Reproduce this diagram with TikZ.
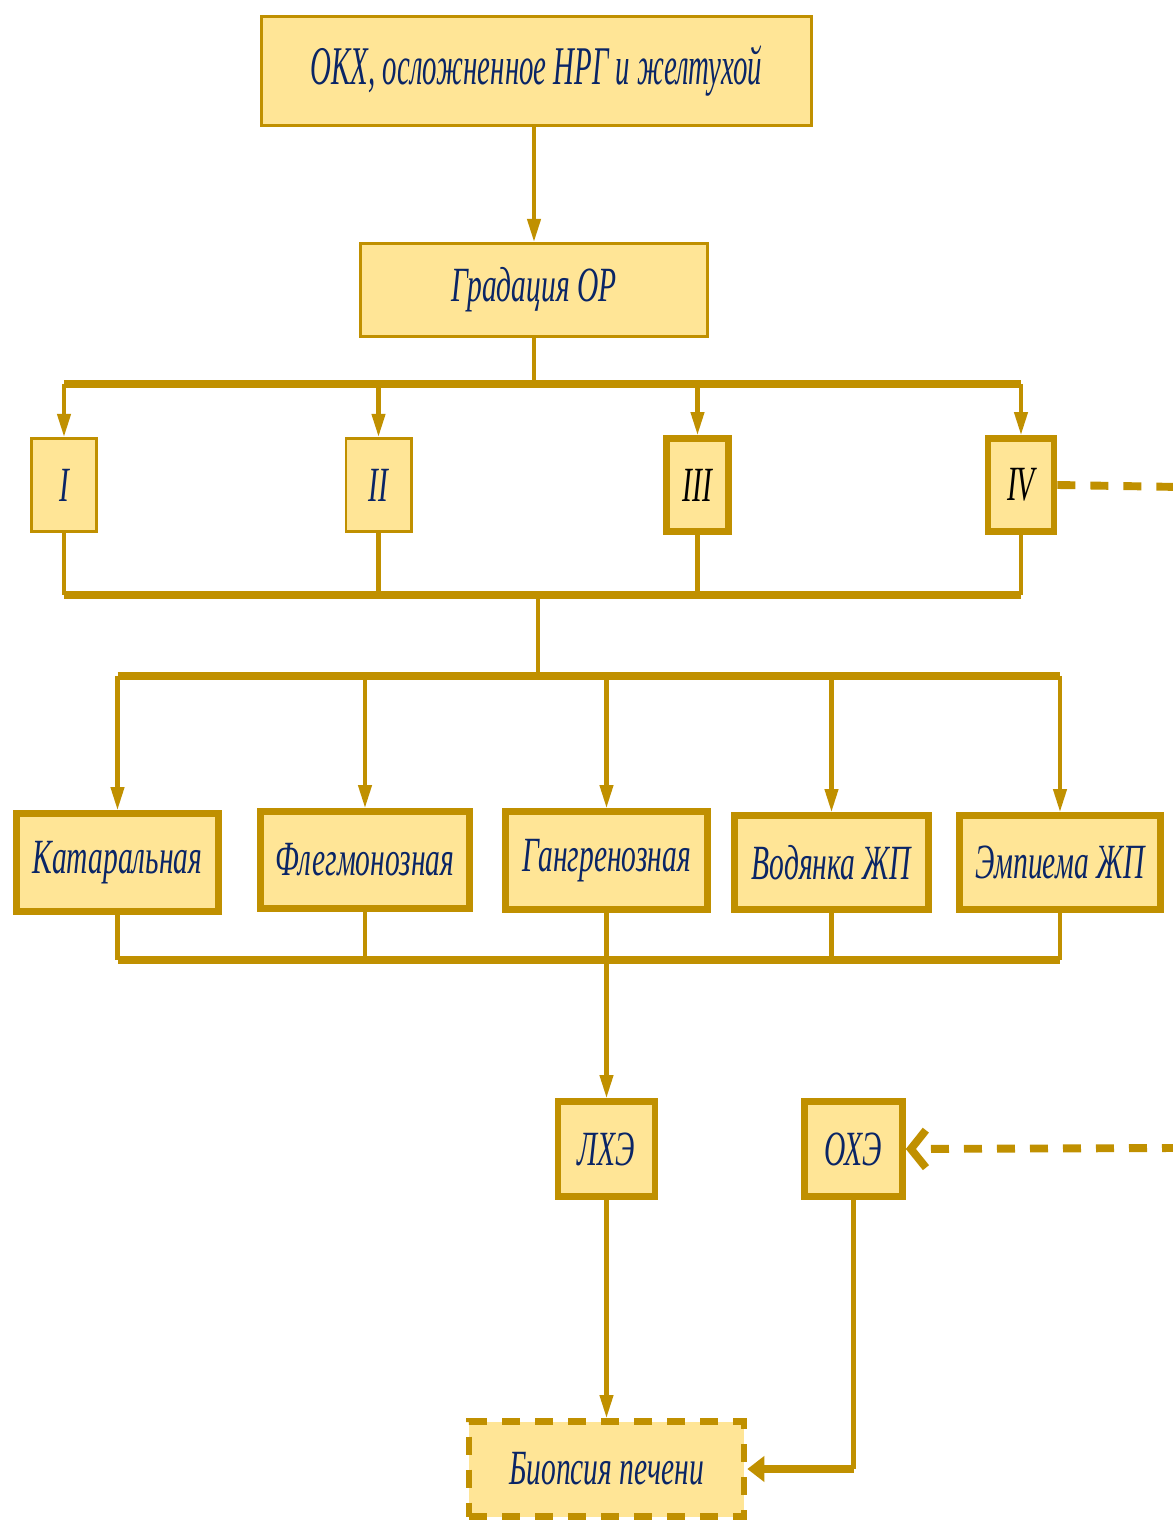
\documentclass[tikz,border=0pt]{standalone}
\usepackage{fontspec}
\usetikzlibrary{arrows.meta}
\newfontfamily\labelfont{Liberation Serif Italic}[FakeStretch=0.6]
\newfontfamily\titlefont{Liberation Serif Italic}[FakeStretch=0.53]
\definecolor{boxfill}{HTML}{FFE596}
\definecolor{boxline}{HTML}{C09000}
\definecolor{ink}{HTML}{0A2566}

\begin{document}
\begin{tikzpicture}[scale=0.2,
  every node/.style={inner sep=0pt, text=ink, font=\labelfont\fontsize{28}{30}\selectfont},
  box/.style={draw=boxline, fill=boxfill, line width=1.7pt},
  boxthick/.style={box, line width=3.8pt},
  boxdash/.style={box, line width=3.8pt, dash pattern=on 0.36cm off 0.3cm},
  link/.style={draw=boxline, line width=2.3pt},
  bus/.style={draw=boxline, line width=4pt},
  dashlink/.style={draw=boxline, line width=4.5pt, dash pattern=on 0.36cm off 0.3cm},
  arr/.style={link, -{Triangle[length=0.46cm,width=0.26cm]}}]
\useasboundingbox (0,0) rectangle (117.2,-152.2);
% upper part
\node [box, minimum width=11cm, minimum height=2.18cm, font=\titlefont\fontsize{31}{33}\selectfont] (okh) at (53.65,-7.1) {ОКХ, осложненное НРГ и желтухой};
\node [box, minimum width=6.94cm, minimum height=1.86cm] (grad) at (53.4,-29.0) {Градация ОР};
\node [box, minimum width=1.3cm, minimum height=1.86cm] (g1) at (6.4,-48.5) {I};
\node [box, minimum width=1.3cm, minimum height=1.86cm] (g2) at (37.85,-48.5) {II};
\node [boxthick, minimum width=1.24cm, minimum height=1.86cm, text=black] (g3) at (69.75,-48.5) {III};
\node [boxthick, minimum width=1.32cm, minimum height=1.86cm, text=black] (g4) at (102.1,-48.5) {IV};
% forms
\node [boxthick, minimum width=4.04cm, minimum height=1.96cm] (kat) at (11.75,-86.25) {Катаральная};
\node [boxthick, minimum width=4.18cm, minimum height=1.94cm] (fleg) at (36.5,-86.0) {Флегмонозная};
\node [boxthick, minimum width=4.04cm, minimum height=1.96cm] (gang) at (60.65,-86.05) {Гангренозная};
\node [boxthick, minimum width=3.88cm, minimum height=1.88cm] (vod) at (83.15,-86.25) {Водянка ЖП};
\node [boxthick, minimum width=4.02cm, minimum height=1.88cm] (emp) at (106.0,-86.25) {Эмпиема ЖП};
% operations
\node [boxthick, minimum width=1.94cm, minimum height=1.9cm] (lhe) at (60.65,-114.9) {ЛХЭ};
\node [boxthick, minimum width=1.96cm, minimum height=1.9cm] (ohe) at (85.35,-114.9) {ОХЭ};
\node [boxdash, minimum width=5.5cm, minimum height=1.9cm] (biop) at (60.65,-146.9) {Биопсия печени};
\coordinate (busA) at (53.4,-38.4);
\coordinate (busB) at (53.8,-59.5);
\coordinate (busC) at (53.8,-67.6);
\coordinate (busD) at (60.65,-96.0);
\coordinate (edgeA) at (118,-48.7);
\coordinate (edgeB) at (118,-114.8);
% connectors
\draw [arr] (grad.north |- okh.south) -- (grad.north);
\draw [link] (grad.south) -- (busA);
\draw [bus] (g1.north |- busA) -- (g4.north |- busA);
\foreach \n in {g1,g2,g3,g4} \draw [arr] (\n.north |- busA) -- (\n.north);
\foreach \n in {g1,g2,g3,g4} \draw [link] (\n.south) -- (\n.south |- busB);
\draw [bus] (g1.south |- busB) -- (g4.south |- busB);
\draw [link] (busB) -- (busC);
\draw [bus] (kat.north |- busC) -- (emp.north |- busC);
\foreach \n in {kat,fleg,gang,vod,emp} \draw [arr] (\n.north |- busC) -- (\n.north);
\foreach \n in {kat,fleg,vod,emp} \draw [link] (\n.south) -- (\n.south |- busD);
\draw [bus] (kat.south |- busD) -- (emp.south |- busD);
\draw [arr] (gang.south) -- (lhe.north);
\draw [arr] (lhe.south) -- (biop.north);
\draw [link] (ohe.south) -- (ohe.south |- biop.east);
\draw [bus, -{Triangle[length=0.34cm,width=0.5cm]}] (ohe.south |- biop.east) -- (biop.east);
\draw [dashlink] (g4.east) -- (edgeA);
\draw [dashlink, -{Straight Barb[length=0.3cm,width=0.75cm]}] (edgeB) -- (ohe.east);
\end{tikzpicture}
\end{document}
